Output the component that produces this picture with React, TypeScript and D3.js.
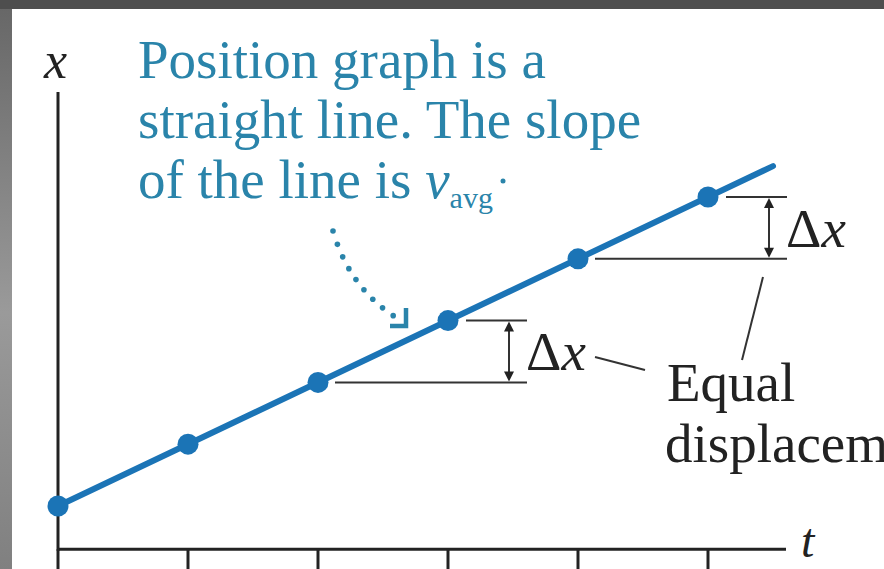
import React from "react";
import * as d3 from "d3";

// Uniform motion: equal time steps give equal displacements.
const times = [0, 1, 2, 3, 4, 5];
const positions = [0, 1, 2, 3, 4, 5];
const lineEndT = 5.5;
const bracketSteps = [2, 4]; // Δx brackets between step i and i+1

const captionLines = ["Position graph is a", "straight line. The slope", "of the line is "];
const noteLines = ["Equal", "displacements"];

const W = 884;
const H = 569;
const BLUE = "#1b74b6";
const TEAL = "#2a84aa";
const INK = "#222";
const SERIF = "'Liberation Serif', 'Times New Roman', serif";

export default function App() {
  const x = d3.scaleLinear().domain([0, 5]).range([58, 708]);
  const y = d3.scaleLinear().domain([0, 5]).range([506, 197]);

  const axisY = y(-0.7);
  const axisTop = y(6.7);
  const axisRight = x(5.6);

  const linePath = d3
    .line<[number, number]>()
    .x((d) => x(d[0]))
    .y((d) => y(d[1]))([
    [times[0], positions[0]],
    [lineEndT, lineEndT],
  ]);

  // curved dotted pointer toward the line
  const p0: [number, number] = [333, 231];
  const pc: [number, number] = [350, 290];
  const p1: [number, number] = [400, 320];
  const dots: [number, number][] = [];
  for (let i = 0; i <= 8; i++) {
    const t = i / 8.6;
    const mt = 1 - t;
    dots.push([
      mt * mt * p0[0] + 2 * mt * t * pc[0] + t * t * p1[0],
      mt * mt * p0[1] + 2 * mt * t * pc[1] + t * t * p1[1],
    ]);
  }

  const arrowHead = (ax: number, ay: number, dir: 1 | -1) => {
    // dir 1: points up at (ax, ay); -1: points down
    const h = 10 * dir;
    return `M${ax},${ay} L${ax - 5},${ay + h} L${ax + 5},${ay + h} Z`;
  };

  return (
    <svg
      width={W}
      height={H}
      style={{ position: "fixed", left: 0, top: 0, display: "block" }}
      fontFamily={SERIF}
    >
      <defs>
        <linearGradient id="sideBand" x1="0" y1="0" x2="0" y2="1">
          <stop offset="0" stopColor="#666" />
          <stop offset="0.55" stopColor="#9a9a9a" />
          <stop offset="1" stopColor="#808080" />
        </linearGradient>
      </defs>
      <rect x={0} y={0} width={W} height={H} fill="url(#sideBand)" />
      <rect x={0} y={0} width={W} height={9} fill="#4e4e4e" />
      <rect x={12} y={9} width={W - 12} height={H - 9} fill="#fff" />

      {/* axes */}
      <g stroke={INK} strokeWidth={3} fill="none">
        <line x1={x(0)} y1={axisTop} x2={x(0)} y2={axisY + 1.5} />
        <line x1={x(0)} y1={axisY} x2={axisRight} y2={axisY} />
        {times.map((t) => (
          <line key={t} x1={x(t)} y1={axisY} x2={x(t)} y2={axisY + 24} />
        ))}
      </g>
      <text x={44} y={78} fontSize={52} fontStyle="italic" fill={INK}>
        x
      </text>
      <text x={801} y={557} fontSize={48} fontStyle="italic" fill={INK}>
        t
      </text>

      {/* Δx brackets */}
      {bracketSteps.map((i) => {
        const topY = y(positions[i + 1]);
        const botY = y(positions[i]);
        const right = x(times[i + 1]) + 79;
        const ax = right - 18;
        return (
          <g key={i}>
            <g stroke="#333" strokeWidth={2}>
              <line x1={x(times[i + 1]) + 18} y1={topY} x2={right} y2={topY} />
              <line x1={x(times[i]) + 17} y1={botY} x2={right} y2={botY} />
              <line x1={ax} y1={topY + 4} x2={ax} y2={botY - 4} />
            </g>
            <path d={arrowHead(ax, topY + 1, 1)} fill="#222" />
            <path d={arrowHead(ax, botY - 1, -1)} fill="#222" />
            <text x={ax + 17} y={botY - 12} fontSize={55} fill={INK}>
              Δ<tspan fontStyle="italic">x</tspan>
            </text>
          </g>
        );
      })}

      {/* leaders to the note */}
      <g stroke="#333" strokeWidth={2}>
        <line x1={595} y1={357} x2={645} y2={370} />
        <line x1={763} y1={277} x2={742} y2={360} />
      </g>
      {noteLines.map((s, i) => (
        <text key={s} x={667 - i * 2} y={401 + i * 61} fontSize={55} fill={INK}>
          {s}
        </text>
      ))}

      {/* position line and points */}
      <path d={linePath ?? ""} stroke={BLUE} strokeWidth={6} fill="none" strokeLinecap="round" />
      {times.map((t, i) => (
        <circle key={t} cx={x(t)} cy={y(positions[i])} r={10.5} fill={BLUE} />
      ))}

      {/* caption */}
      {captionLines.map((s, i) => (
        <text key={i} x={138} y={78 + i * 60} fontSize={55} fill={TEAL}>
          {s}
          {i === 2 && (
            <>
              <tspan fontStyle="italic">v</tspan>
              <tspan fontSize={30} dy={10}>
                avg
              </tspan>
            </>
          )}
        </text>
      ))}
      <circle cx={503} cy={181} r={2.5} fill={TEAL} />

      {/* dotted pointer */}
      {dots.map((d, i) => (
        <circle key={i} cx={d[0]} cy={d[1]} r={2.8} fill={TEAL} />
      ))}
      <path
        d={`M${406},${308} L${406},${326} L${390},${326}`}
        stroke={TEAL}
        strokeWidth={4.5}
        fill="none"
        strokeLinejoin="miter"
      />
    </svg>
  );
}
